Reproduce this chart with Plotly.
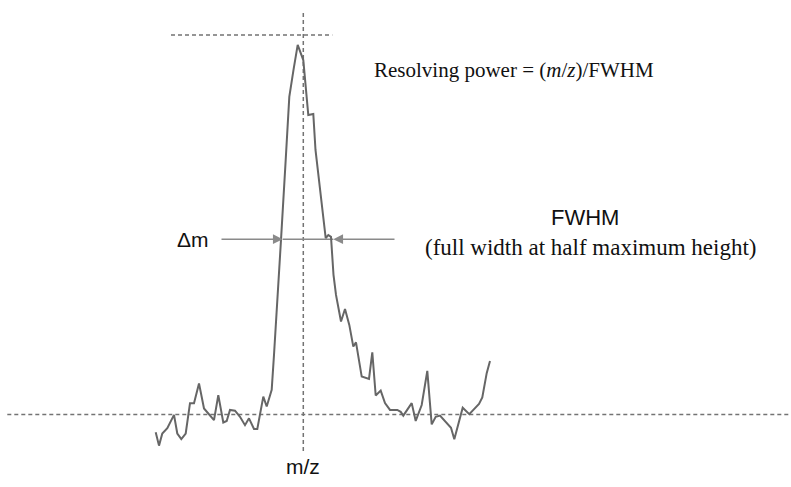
import plotly.graph_objects as go

# Mass spectrum peak (m/z vs relative intensity, baseline = 0, max guide = 100)
mz = [498.524, 498.557, 498.590, 498.640, 498.707, 498.740, 498.780, 498.824,
      498.867, 498.907, 498.957, 499.007, 499.107, 499.150, 499.200, 499.234,
      499.267, 499.317, 499.367, 499.417, 499.457, 499.507, 499.540, 499.600,
      499.634, 499.684, 499.707, 499.737, 499.777, 499.824, 499.860, 499.902,
      499.944, 500.000, 500.050, 500.100, 500.122, 500.224, 500.250, 500.277,
      500.302, 500.327, 500.377, 500.417, 500.460, 500.500, 500.527, 500.584,
      500.657, 500.690, 500.724, 500.774, 500.817, 500.867, 500.940, 500.974,
      501.000, 501.084, 501.124, 501.184, 501.240, 501.284, 501.324, 501.367,
      501.477, 501.510, 501.594, 501.660, 501.757, 501.790, 501.834, 501.867]
intensity = [-4.7, -8.2, -5.0, -3.6, -0.1, -5.0, -6.5, -5.0,
             3.0, 3.0, 8.2, 1.6, -1.5, 5.1, -2.1, -1.7,
             1.2, 1.0, -0.6, -2.8, -1.0, -3.8, -3.8, 4.7,
             2.1, 6.5, 15.7, 30.2, 46.0, 67.1, 83.7, 90.8,
             97.4, 93.4, 78.9, 79.2, 69.7, 46.5, 47.3, 46.8,
             36.8, 31.5, 24.5, 27.8, 23.6, 17.9, 19.0, 10.0,
             9.4, 16.4, 5.0, 6.3, 3.0, 1.2, 1.2, 0.7,
             -0.3, 3.0, -1.7, 2.5, 11.5, -2.6, -0.6, -0.3,
             -3.5, -6.5, 1.8, 0.1, 2.8, 4.5, 10.9, 14.1]

# Guide geometry (data units)
peak_mz = 500.0
max_level = 100.0
half_level = 46.2
fwhm_left, fwhm_right = 499.794, 500.300
arrow_tail_left, arrow_tail_right = 499.167, 500.927

X_RANGE = [496.967, 504.877]
Y_RANGE = [-19.10, 109.22]

dash_color = "#737373"
arrow_color = "#8a8a8a"

fig = go.Figure()
fig.add_trace(go.Scatter(x=mz, y=intensity, mode="lines",
                         line=dict(color="#666666", width=2),
                         hoverinfo="skip", showlegend=False))

shapes = [
    # baseline
    dict(type="line", x0=497.04, x1=X_RANGE[1], y0=0, y1=0,
         line=dict(color=dash_color, width=1.5, dash="4px,3px")),
    # maximum height
    dict(type="line", x0=498.677, x1=500.29, y0=max_level, y1=max_level,
         line=dict(color=dash_color, width=1.5, dash="4px,3px")),
    # peak centre
    dict(type="line", x0=peak_mz, x1=peak_mz, y0=-9.6, y1=106.1,
         line=dict(color=dash_color, width=1.5, dash="4px,3px")),
    # width segment between arrowheads
    dict(type="line", x0=fwhm_left, x1=fwhm_right, y0=half_level, y1=half_level,
         line=dict(color=arrow_color, width=1.5)),
]
for s in shapes:
    s.update(xref="x", yref="y", layer="below")
fig.update_layout(shapes=shapes)

arrows = [
    dict(x=fwhm_left, y=half_level, ax=arrow_tail_left, ay=half_level),
    dict(x=fwhm_right, y=half_level, ax=arrow_tail_right, ay=half_level),
]
for a in arrows:
    fig.add_annotation(**a, xref="x", yref="y", axref="x", ayref="y",
                       text="", showarrow=True, arrowhead=2, arrowsize=1.3,
                       arrowwidth=1.5, arrowcolor=arrow_color)

sans = "Liberation Sans, Arial, sans-serif"
serif = "Liberation Serif, Times New Roman, serif"
fig.add_annotation(x=498.897, y=half_level, text="Δm", showarrow=False,
                   font=dict(family=sans, size=21, color="#111111"))
fig.add_annotation(x=500.69, y=90.8, text="Resolving power = (<i>m</i>/<i>z</i>)/FWHM",
                   showarrow=False, xanchor="left",
                   font=dict(family=serif, size=21, color="#111111"))
fig.add_annotation(x=502.82, y=52.0, text="FWHM", showarrow=False,
                   font=dict(family=sans, size=22, color="#111111"))
fig.add_annotation(x=502.88, y=43.9, text="(full width at half maximum height)",
                   showarrow=False,
                   font=dict(family=serif, size=23, color="#111111"))
fig.add_annotation(x=peak_mz, y=-13.8, text="m/z", showarrow=False,
                   font=dict(family=sans, size=21, color="#111111"))

fig.update_xaxes(range=X_RANGE, visible=False, fixedrange=True)
fig.update_yaxes(range=Y_RANGE, visible=False, fixedrange=True)
fig.update_layout(width=791, height=487, margin=dict(l=0, r=0, t=0, b=0),
                  paper_bgcolor="white", plot_bgcolor="white")

fig.write_html("out.html", config={"displayModeBar": False})
